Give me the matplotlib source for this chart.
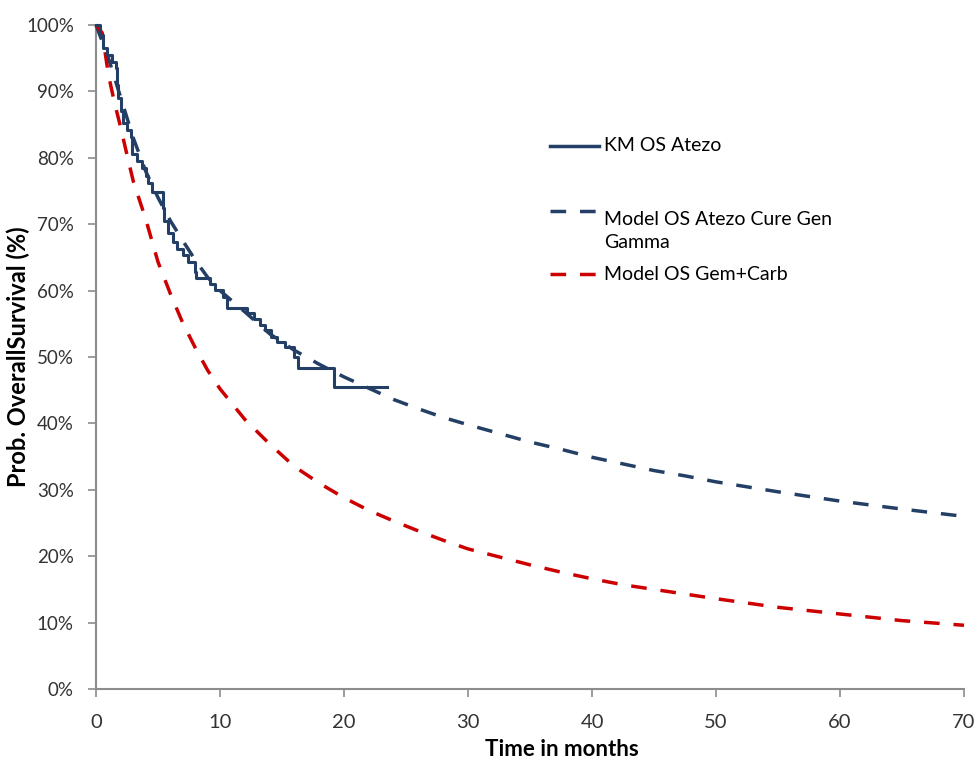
import matplotlib
matplotlib.use("Agg")
import matplotlib.pyplot as plt

# KM observed (step, post)
km_t = [0, 0.3, 0.6, 0.9, 1.3, 1.6, 1.7, 1.8, 2.0, 2.2, 2.5, 2.8, 2.9, 3.3, 3.7,
        4.0, 4.2, 4.5, 5.4, 5.5, 5.8, 6.2, 6.5, 7.0, 7.4, 8.0, 8.1, 9.2, 9.6,
        10.2, 10.6, 12.2, 12.7, 13.2, 13.6, 14.1, 14.6, 15.2, 16.0, 16.3, 19.2, 23.5]
km_s = [100, 98.5, 96.5, 95.5, 94.5, 93.5, 91, 89, 87, 85.3, 84.2, 83.2, 80.5, 79.5, 78.5,
        77.2, 76.2, 74.8, 72.5, 70.5, 68.7, 67.3, 66.3, 65.3, 64.3, 62.8, 61.9, 61.0, 60.1,
        59.0, 57.4, 56.6, 55.7, 54.8, 54.0, 53.0, 52.3, 51.5, 50.0, 48.3, 45.5, 45.5]

# model curves
mod_t = [0, 0.5, 1, 1.5, 2, 2.5, 3, 4, 5, 6, 7, 8, 9, 10, 12, 14, 16, 18, 20, 22, 24,
         26, 28, 30, 32.5, 35, 37.5, 40, 42.5, 45, 47.5, 50, 55, 60, 65, 70]
atezo_s = [100, 97.5, 95, 92, 89, 86, 83, 78, 74, 70.5, 67.5, 64.6, 62, 60, 56.8, 53.5,
           51, 48.9, 47.0, 45.3, 43.6, 42.2, 40.9, 39.8, 38.5, 37.2, 36.1, 34.9, 33.9,
           32.9, 32.1, 31.2, 29.7, 28.3, 27.1, 26.0]
gemcarb_s = [100, 98.8, 92.5, 88.2, 84.5, 80.4, 76.5, 70.8, 64.3, 59.5, 55.1, 51.4, 48.0,
             45.2, 40.6, 36.9, 33.5, 31.0, 28.8, 26.9, 25.3, 23.8, 22.4, 21.1, 19.9, 18.7,
             17.6, 16.6, 15.7, 15.0, 14.3, 13.6, 12.3, 11.3, 10.3, 9.6]

x_ticks = [0, 10, 20, 30, 40, 50, 60, 70]
y_ticks = [0, 10, 20, 30, 40, 50, 60, 70, 80, 90, 100]

NAVY = "#243f66"
RED = "#cc0000"
GREY = "#8c8c8c"
DASH = (4.5, 4)

plt.rcParams["font.family"] = ["Lato", "DejaVu Sans"]

fig = plt.figure(figsize=(9.8, 7.6), dpi=100, facecolor="white")
ax = fig.add_axes([0.098, 0.0934, 0.8857, 0.8737])

ax.step(km_t, km_s, where="post", color=NAVY, lw=2.2, zorder=4, clip_on=False)
ax.plot(mod_t, atezo_s, color=NAVY, lw=2.5, dashes=DASH, zorder=3, clip_on=False)
ax.plot(mod_t, gemcarb_s, color=RED, lw=2.5, dashes=DASH, zorder=3, clip_on=False)

ax.set_xlim(0, 70)
ax.set_ylim(0, 100)
ax.set_xticks(x_ticks)
ax.set_yticks(y_ticks)
ax.set_yticklabels([f"{v}%" for v in y_ticks])
ax.tick_params(axis="both", direction="out", length=6, width=1.2, color=GREY,
               labelcolor="#333333")
ax.tick_params(axis="x", labelsize=14.5, pad=12)
ax.tick_params(axis="y", labelsize=13.5, pad=10)

for side in ["top", "right"]:
    ax.spines[side].set_visible(False)
for side in ["left", "bottom"]:
    ax.spines[side].set_color(GREY)
    ax.spines[side].set_linewidth(1.5)

ax.set_xlabel("Time in months", fontsize=16, fontweight="bold", color="black")
ax.set_ylabel("Prob. OverallSurvival (%)", fontsize=17, fontweight="bold", color="black")
ax.xaxis.set_label_coords(0.537, -0.075)
ax.yaxis.set_label_coords(-0.076, 0.5)

# legend, laid out by hand like the original
leg = [("KM OS Atezo", NAVY, "-", 0.818),
       ("Model OS Atezo Cure Gen\nGamma", NAVY, "--", 0.720),
       ("Model OS Gem+Carb", RED, "--", 0.625)]
for label, col, ls, yy in leg:
    if ls == "-":
        ax.plot([0.523, 0.58], [yy, yy], transform=ax.transAxes, color=col, lw=2.5)
    else:
        ax.plot([0.523, 0.58], [yy, yy], transform=ax.transAxes, color=col, lw=2.5,
                dashes=DASH)
    ax.text(0.585, yy, label, transform=ax.transAxes, fontsize=14, color="black",
            ha="left", va="top" if "\n" in label else "center",
            linespacing=1.45)

fig.savefig("out.png", dpi=100, facecolor="white")
